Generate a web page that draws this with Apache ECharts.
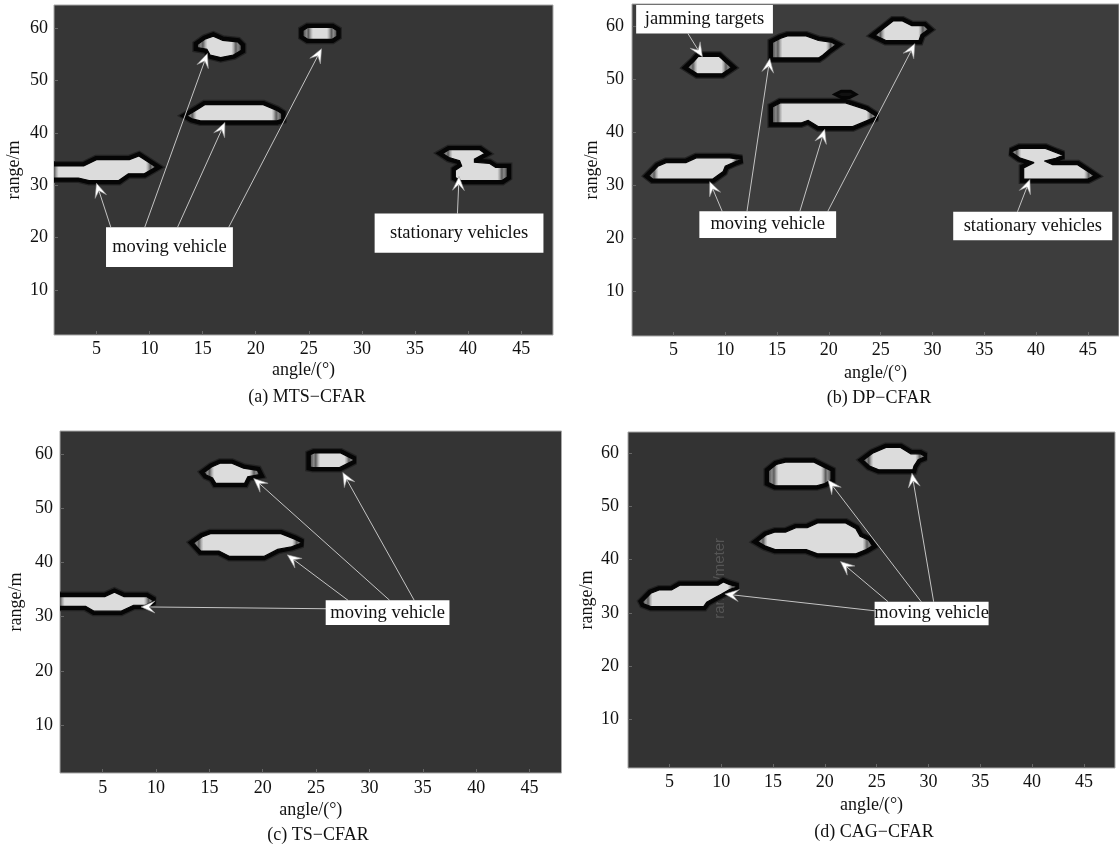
<!DOCTYPE html>
<html><head><meta charset="utf-8">
<script src="https://cdn.jsdelivr.net/npm/echarts@6/dist/echarts.min.js"></script>
<style>html,body{margin:0;padding:0;background:#fff}#c{width:1119px;height:849px}</style>
</head><body><div id="c"></div>
<script>
// ---------- data ----------
const xTicks = [5, 10, 15, 20, 25, 30, 35, 40, 45];
const yTicks = [10, 20, 30, 40, 50, 60];
const xName = 'angle/(°)';
const yName = 'range/m';
const captions = ['(a) MTS−CFAR', '(b) DP−CFAR', '(c) TS−CFAR', '(d) CAG−CFAR'];

// detection regions: outline vertices [angle, range]
const blobsA = [
  [[0.5,33.7],[3.8,33.7],[5.0,34.9],[8.1,34.9],[9.0,35.6],[10.6,33.5],[9.5,32.2],[8.0,32.2],[7.1,30.9],[4.3,30.9],[3.3,31.4],[0.5,31.4]],
  [[14.5,56.9],[15.2,57.9],[16.0,58.5],[16.9,57.7],[18.3,57.4],[18.65,56.7],[18.65,55.8],[17.9,54.9],[16.7,54.4],[15.7,54.9],[15.4,56.0],[14.5,56.3]],
  [[24.45,58.5],[24.45,59.6],[24.9,60.15],[27.2,60.15],[27.65,59.6],[27.65,58.5],[27.2,57.9],[24.9,57.9]],
  [[13.5,43.3],[14.5,44.5],[15.2,45.4],[20.7,45.4],[22.0,44.3],[22.45,43.7],[22.45,42.6],[22.0,42.3],[14.8,42.3],[14.0,42.7]],
  [[37.6,36.1],[38.2,36.8],[41.1,36.8],[41.6,36.1],[40.6,35.0],[40.6,34.4],[42.0,34.2],[42.6,33.4],[43.7,33.4],[43.7,31.6],[43.2,30.9],[39.3,30.9],[38.8,31.5],[38.8,32.9],[39.4,33.7],[39.2,34.7],[38.2,35.3]]
];
const blobsB = [
  [[6.35,52.3],[7.0,53.5],[7.4,54.4],[9.4,54.4],[9.9,53.5],[10.6,52.3],[9.7,51.1],[7.3,51.1]],
  [[14.55,54.1],[14.55,57.0],[15.3,57.8],[16.0,58.25],[17.8,58.25],[19.0,57.4],[20.2,57.1],[20.7,56.6],[20.0,55.6],[19.4,54.6],[19.0,54.1]],
  [[24.45,58.4],[25.3,59.7],[26.2,61.1],[27.1,61.1],[28.0,60.2],[29.2,60.2],[29.6,59.5],[28.9,58.5],[28.7,57.4],[25.5,57.4]],
  [[14.55,44.8],[15.3,45.6],[21.6,45.6],[23.6,44.3],[24.6,43.0],[23.4,42.0],[22.3,41.1],[19.0,41.1],[18.0,42.3],[17.3,41.8],[14.55,41.8]],
  [[2.6,31.8],[3.5,33.6],[4.3,34.3],[6.2,34.3],[7.2,35.2],[10.4,35.2],[11.6,34.9],[10.9,34.4],[10.0,33.6],[9.8,32.6],[8.8,31.2],[3.0,31.2]],
  [[37.6,36.3],[38.4,37.0],[40.9,37.0],[41.9,36.2],[42.6,35.7],[41.9,35.1],[40.8,34.6],[41.6,33.9],[44.0,33.9],[45.0,32.6],[45.6,31.8],[45.0,31.2],[38.8,31.2],[38.8,33.3],[39.8,34.3],[38.4,35.2]]
];
const darkB = [
  [[20.6,47.2],[21.2,47.8],[22.1,47.8],[22.6,47.2],[22.0,46.6],[21.2,46.6]]
];
const blobsC = [
  [[0.5,33.7],[5.2,33.7],[6.1,34.5],[7.0,33.7],[9.1,33.7],[9.8,32.9],[9.0,32.1],[7.9,32.1],[6.7,31.0],[4.2,31.0],[3.4,31.9],[0.5,31.9]],
  [[14.5,56.6],[15.2,57.6],[16.0,58.3],[17.1,58.3],[18.2,57.4],[19.5,57.0],[19.7,56.2],[18.6,55.8],[18.3,54.6],[15.6,54.6],[15.3,55.6],[14.7,56.1]],
  [[24.45,57.6],[24.45,59.9],[24.8,60.2],[27.3,60.2],[28.6,58.9],[27.8,58.1],[27.2,57.5],[24.7,57.5]],
  [[13.5,43.6],[14.3,44.7],[15.1,45.3],[21.7,45.3],[23.0,44.3],[23.7,43.6],[22.7,42.9],[21.4,42.4],[20.1,41.1],[16.9,41.1],[15.9,42.1],[14.2,42.1]]
];
const blobsD = [
  [[2.4,32.1],[3.2,33.7],[4.0,34.3],[5.2,34.3],[6.0,35.2],[9.7,35.2],[10.2,35.8],[10.7,35.4],[11.6,34.9],[10.8,34.4],[10.0,33.5],[9.5,33.0],[8.6,32.0],[8.3,31.2],[3.2,31.2],[2.5,31.7]],
  [[14.55,54.5],[14.55,56.7],[15.3,57.9],[16.2,58.35],[18.9,58.35],[20.0,57.3],[20.6,56.7],[20.6,55.0],[20.0,54.3],[19.2,53.9],[15.2,53.9]],
  [[23.7,58.7],[24.6,60.0],[25.9,61.1],[27.3,61.1],[28.3,59.9],[29.2,59.9],[29.7,59.4],[29.0,58.8],[28.6,57.6],[28.5,56.9],[25.2,56.9],[24.3,57.6]],
  [[13.5,43.4],[14.3,44.6],[15.2,45.2],[16.2,45.2],[17.2,46.0],[18.3,46.0],[19.3,46.9],[22.0,46.9],[23.0,45.8],[23.4,44.4],[24.2,43.7],[24.6,42.6],[24.0,41.9],[23.0,41.1],[19.3,41.1],[18.2,41.9],[15.2,41.9],[14.2,42.6]]
];

// annotation arrows: [fromAngle, fromRange, toAngle, toRange]
const arrowsA = [[6.35,22.0,5.0,30.4],[9.55,22.0,15.45,55.2],[12.64,22.0,17.1,42.0],[17.46,22.0,26.2,56.1],[39.0,24.6,39.15,31.7]];
const arrowsB = [[6.4,58.7,7.8,54.3],[9.7,25.1,8.5,30.7],[12.1,25.1,14.3,54.0],[17.2,25.1,19.6,40.6],[19.9,25.1,28.3,56.8],[38.2,25.0,39.4,31.1]];
const arrowsC = [[26.2,31.45,8.6,31.8],[28.0,33.0,22.3,41.4],[31.9,33.0,19.15,55.5],[34.2,33.0,27.5,56.6]];
const arrowsD = [[24.8,30.4,10.35,33.55],[26.1,32.1,21.5,39.65],[29.3,32.1,20.3,55.0],[30.5,32.1,28.4,56.25]];

// annotation text boxes: [angle0, range0, angle1, range1, text]
const boxesA = [[5.9,22.0,17.85,14.4,'moving vehicle'],[31.2,24.6,47.1,17.1,'stationary vehicles']];
const boxesB = [[1.4,64.1,14.6,58.7,'jamming targets'],[7.5,25.1,20.7,20.05,'moving vehicle'],[32.0,25.0,47.35,19.6,'stationary vehicles']];
const boxesC = [[25.9,33.0,37.5,28.45,'moving vehicle']];
const boxesD = [[24.8,32.1,35.8,27.7,'moving vehicle']];

// faint overlapping label in panel (d): [angle, range, text]
const ghostD = [[9.85,36.5,'range/meter']];

// ---------- layout / style ----------
const SERIF = '"Liberation Serif","Times New Roman",serif';
const layout = [
  {left:54, top:5, width:499, height:330, ymin:1.4, ymax:64.45, bg:'#363636', xGap:26, yGap:31, xm:5, ym:6, cap:[307,397]},
  {left:632, top:4, width:490, height:332, ymin:1.5, ymax:64.3, bg:'#3d3d3d', xGap:28, yGap:31, xm:5.5, ym:8, cap:[879,398]},
  {left:60, top:431, width:501.5, height:342, ymin:1.15, ymax:64.25, bg:'#343434', xGap:28, yGap:35, xm:6, ym:7, cap:[318,835]},
  {left:628, top:432, width:487, height:336, ymin:0.85, ymax:64.0, bg:'#333333', xGap:28, yGap:32, xm:5, ym:9, cap:[874,832]}
];
const panels = [
  {blobs: blobsA, dark: [], arrows: arrowsA, boxes: boxesA, ghost: []},
  {blobs: blobsB, dark: darkB, arrows: arrowsB, boxes: boxesB, ghost: []},
  {blobs: blobsC, dark: [], arrows: arrowsC, boxes: boxesC, ghost: []},
  {blobs: blobsD, dark: [], arrows: arrowsD, boxes: boxesD, ghost: ghostD}
];

function edgeShade(pts) {
  let mn = Infinity, mx = -Infinity;
  pts.forEach(p => { mn = Math.min(mn, p[0]); mx = Math.max(mx, p[0]); });
  const w = Math.max(mx - mn, 1), s = Math.min(10 / w, 0.3);
  return new echarts.graphic.LinearGradient(mn, 0, mx, 0, [
    {offset:0, color:'#4a4a4a'}, {offset:s*0.35, color:'#8a8a8a'}, {offset:s*0.55, color:'#5c5c5c'},
    {offset:s*0.8, color:'#b0b0b0'}, {offset:s, color:'#dcdcdc'},
    {offset:1-s, color:'#dcdcdc'}, {offset:1-s*0.8, color:'#b0b0b0'}, {offset:1-s*0.55, color:'#5c5c5c'},
    {offset:1-s*0.35, color:'#8a8a8a'}, {offset:1, color:'#4a4a4a'}
  ], true);
}

const grid = [], xAxis = [], yAxis = [], series = [], graphic = [];
layout.forEach((L, k) => {
  grid.push({left:L.left, top:L.top, width:L.width, height:L.height, show:true,
    backgroundColor:L.bg, borderColor:'#a8a8a8', borderWidth:1});
  xAxis.push({type:'value', gridIndex:k, min:1, max:48,
    name:xName, nameLocation:'middle', nameGap:L.xGap,
    nameTextStyle:{fontFamily:SERIF, fontSize:18, color:'#111'},
    axisLine:{show:false}, splitLine:{show:false},
    axisTick:{show:true, inside:true, length:4, lineStyle:{color:'#666'}, customValues:xTicks},
    axisLabel:{fontFamily:SERIF, fontSize:18, color:'#111', margin:L.xm, customValues:xTicks}
  });
  yAxis.push({type:'value', gridIndex:k, min:L.ymin, max:L.ymax,
    name:yName, nameLocation:'middle', nameGap:L.yGap, nameRotate:90,
    nameTextStyle:{fontFamily:SERIF, fontSize:18, color:'#111'},
    axisLine:{show:false}, splitLine:{show:false},
    axisTick:{show:true, inside:true, length:4, lineStyle:{color:'#666'}, customValues:yTicks},
    axisLabel:{fontFamily:SERIF, fontSize:18, color:'#111', margin:L.ym, customValues:yTicks}
  });
  graphic.push({type:'text', x:L.cap[0], y:L.cap[1],
    style:{text:captions[k], fontFamily:SERIF, fontSize:18, fill:'#111', align:'center', verticalAlign:'middle'}});

  const P = panels[k];
  if (P.ghost.length) {
    series.push({type:'custom', xAxisIndex:k, yAxisIndex:k, z:1, silent:true,
      data:P.ghost.map((g, i) => [i, 0]),
      renderItem:(params, api) => {
        const g = P.ghost[api.value(0)];
        const c = api.coord([g[0], g[1]]);
        return {type:'text', x:c[0], y:c[1], rotation:Math.PI/2,
          style:{text:g[2], fontFamily:'"Liberation Sans",Arial,sans-serif', fontSize:15,
            fill:'#555555', align:'center', verticalAlign:'middle'}};
      }});
  }
  series.push({type:'custom', xAxisIndex:k, yAxisIndex:k, z:2, clip:true, silent:true,
    data:P.blobs.map((b, i) => [i, 0]),
    renderItem:(params, api) => {
      const pts = P.blobs[api.value(0)].map(p => api.coord(p));
      return {type:'group', children:[
        {type:'polygon', shape:{points:pts}, style:{fill:'#222', stroke:'#222', lineWidth:10, lineJoin:'miter', miterLimit:2}},
        {type:'polygon', shape:{points:pts}, style:{fill:'#050505', stroke:'#050505', lineWidth:7.5, lineJoin:'miter', miterLimit:2}},
        {type:'polygon', shape:{points:pts}, style:{fill:edgeShade(pts), stroke:'#050505', lineWidth:1.2, lineJoin:'miter', miterLimit:2}}
      ]};
    }});
  if (P.dark.length) {
    series.push({type:'custom', xAxisIndex:k, yAxisIndex:k, z:2, clip:true, silent:true,
      data:P.dark.map((b, i) => [i, 0]),
      renderItem:(params, api) => {
        const pts = P.dark[api.value(0)].map(p => api.coord(p));
        return {type:'polygon', shape:{points:pts}, style:{fill:'#111', stroke:'#050505', lineWidth:3, lineJoin:'miter'}};
      }});
  }
  series.push({type:'custom', xAxisIndex:k, yAxisIndex:k, z:3, silent:true,
    data:P.arrows.map((a, i) => [i, 0]),
    renderItem:(params, api) => {
      const a = P.arrows[api.value(0)];
      const s = api.coord([a[0], a[1]]), t = api.coord([a[2], a[3]]);
      const dx = t[0]-s[0], dy = t[1]-s[1], len = Math.hypot(dx, dy);
      const ux = dx/len, uy = dy/len, nx = -uy, ny = ux;
      const hl = 14, hw = 6, nt = 8;
      const bx = t[0]-ux*hl, by = t[1]-uy*hl;
      const pn = [t[0]-ux*nt, t[1]-uy*nt];
      return {type:'group', children:[
        {type:'line', shape:{x1:s[0], y1:s[1], x2:pn[0], y2:pn[1]}, style:{stroke:'#c4c4c4', lineWidth:1}},
        {type:'polygon', shape:{points:[t, [bx+nx*hw, by+ny*hw], pn, [bx-nx*hw, by-ny*hw]]},
          style:{fill:'#ffffff', stroke:'#999', lineWidth:0.6}}
      ]};
    }});
  series.push({type:'custom', xAxisIndex:k, yAxisIndex:k, z:4, silent:true,
    data:P.boxes.map((b, i) => [i, 0]),
    renderItem:(params, api) => {
      const b = P.boxes[api.value(0)];
      const p0 = api.coord([b[0], b[1]]), p1 = api.coord([b[2], b[3]]);
      return {type:'group', children:[
        {type:'rect', shape:{x:p0[0], y:p0[1], width:p1[0]-p0[0], height:p1[1]-p0[1]}, style:{fill:'#ffffff'}},
        {type:'text', x:(p0[0]+p1[0])/2, y:(p0[1]+p1[1])/2,
          style:{text:b[4], fontFamily:SERIF, fontSize:18.5, fill:'#111', align:'center', verticalAlign:'middle'}}
      ]};
    }});
});

const chart = echarts.init(document.getElementById('c'), null, {renderer:'canvas'});
chart.setOption({animation:false, backgroundColor:'#ffffff', grid, xAxis, yAxis, series, graphic});
</script>
</body></html>
